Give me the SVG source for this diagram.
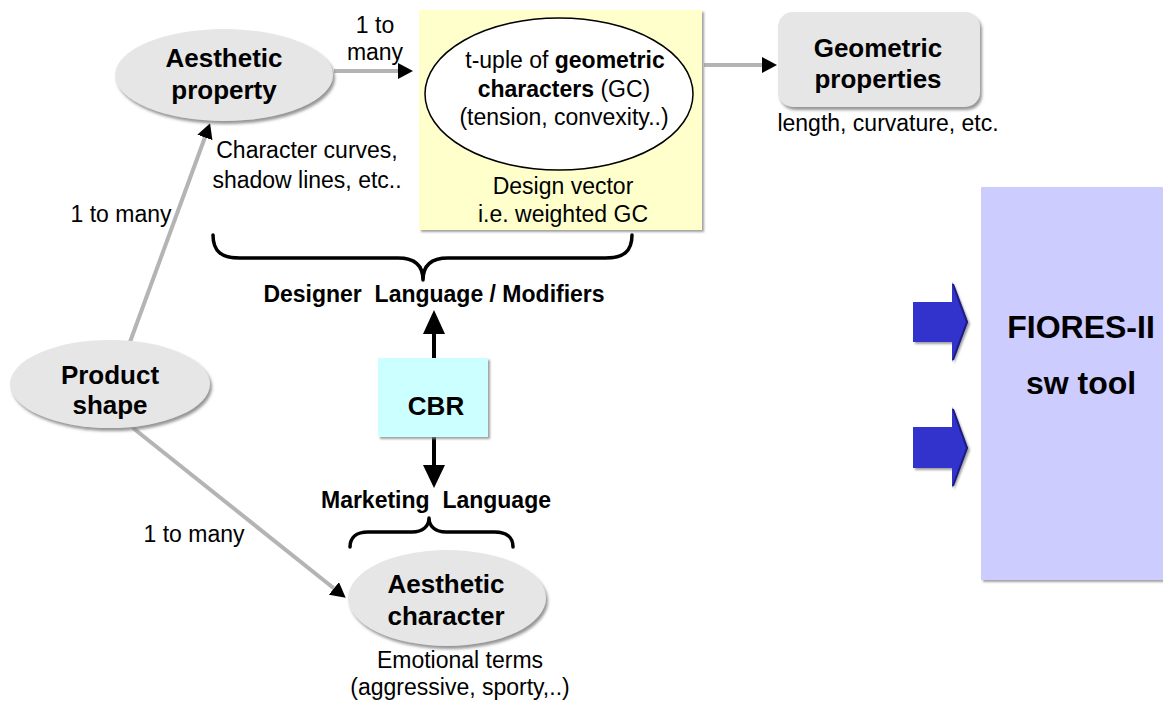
<svg xmlns="http://www.w3.org/2000/svg" width="1163" height="701" viewBox="0 0 1163 701">
<style>
text{font-family:"Liberation Sans",Arial,sans-serif;fill:#000}
.r{font-size:23px}
.b{font-size:23px;font-weight:bold}
.nb{font-size:26px;font-weight:bold}
.big{font-size:32px;font-weight:bold}
.node{fill:#e6e6e6;filter:url(#sh)}
.gl{stroke:#b4b4b4;stroke-width:4;fill:none}
.bl{stroke:#000;stroke-width:4;fill:none}
.brace{stroke:#000;stroke-width:3.5;fill:none;stroke-linecap:round;stroke-linejoin:round}
.barrow{fill:#3333cc;filter:url(#sh2)}
.bedge{stroke:#1c1c80;stroke-width:2;fill:none}
</style>
<defs>
<filter id="sh" x="-10%" y="-10%" width="130%" height="130%">
<feDropShadow dx="2" dy="3" stdDeviation="1.5" flood-color="#7a7a7a" flood-opacity="0.8"/>
</filter>
<filter id="sh2" x="-10%" y="-10%" width="130%" height="130%">
<feDropShadow dx="2" dy="2" stdDeviation="1" flood-color="#888" flood-opacity="0.8"/>
</filter>
<marker id="ah" viewBox="0 0 15 16" refX="9" refY="8" markerWidth="15" markerHeight="16" markerUnits="userSpaceOnUse" orient="auto">
<path d="M0,0 L15,8 L0,16 z" fill="#000"/>
</marker>
</defs>

<g id="connectors">
<line class="gl" x1="334" y1="71" x2="407" y2="71" marker-end="url(#ah)"/>
<line class="gl" x1="704" y1="65" x2="771" y2="65" marker-end="url(#ah)"/>
<line class="gl" x1="130" y1="342" x2="208" y2="129" marker-end="url(#ah)"/>
<line class="gl" x1="133" y1="428" x2="341" y2="594" marker-end="url(#ah)"/>
<line class="bl" x1="434" y1="358" x2="434" y2="330"/>
<polygon points="423,334 434,310 445,334" fill="#000"/>
<line class="bl" x1="434" y1="437" x2="434" y2="468"/>
<polygon points="423,465 434,488 445,465" fill="#000"/>
<path class="brace" d="M213,235 C213,252 222,258 240,258 L398,258 C415,258 423,266 423,280 C423,266 431,258 448,258 L605,258 C623,258 632,252 632,235"/>
<path class="brace" d="M350,547 C350,538 356,532 368,532 L412,532 C423,532 429,526 429,518 C429,526 435,532 446,532 L495,532 C507,532 513,538 513,547"/>
</g>

<g id="aesthetic-property">
<ellipse class="node" cx="224" cy="75" rx="109" ry="46"/>
<text class="nb" x="224" y="67" text-anchor="middle">Aesthetic</text>
<text class="nb" x="224" y="99" text-anchor="middle">property</text>
<text class="r" x="307" y="158" text-anchor="middle">Character curves,</text>
<text class="r" x="307" y="188" text-anchor="middle">shadow lines, etc..</text>
</g>

<g id="label-1-to-many-top">
<text class="r" x="375" y="33" text-anchor="middle">1 to</text>
<text class="r" x="375" y="60" text-anchor="middle">many</text>
</g>

<g id="design-vector">
<rect x="419" y="10" width="283" height="220" fill="#ffffcc" filter="url(#sh2)"/>
<ellipse cx="559" cy="94" rx="134" ry="76" fill="#fff" stroke="#000" stroke-width="1.5"/>
<text class="r" x="565" y="68" text-anchor="middle">t-uple of <tspan font-weight="bold">geometric</tspan></text>
<text class="r" x="564" y="97" text-anchor="middle"><tspan font-weight="bold">characters</tspan> (GC)</text>
<text class="r" x="564" y="125" text-anchor="middle">(tension, convexity..)</text>
<text class="r" x="563" y="194" text-anchor="middle">Design vector</text>
<text class="r" x="563" y="222" text-anchor="middle">i.e. weighted GC</text>
</g>

<g id="geometric-properties">
<rect class="node" x="778" y="12" width="202" height="95" rx="15" ry="15"/>
<text class="nb" x="878" y="57" text-anchor="middle">Geometric</text>
<text class="nb" x="878" y="88" text-anchor="middle">properties</text>
<text class="r" x="888" y="131" text-anchor="middle">length, curvature, etc.</text>
</g>

<g id="label-1-to-many-left">
<text class="r" x="121" y="222" text-anchor="middle">1 to many</text>
</g>

<g id="designer-language">
<text class="b" x="434" y="302" text-anchor="middle" xml:space="preserve">Designer  Language / Modifiers</text>
</g>

<g id="product-shape">
<ellipse class="node" cx="110" cy="384" rx="100" ry="44"/>
<text class="nb" x="110" y="384" text-anchor="middle">Product</text>
<text class="nb" x="110" y="414" text-anchor="middle">shape</text>
</g>

<g id="cbr">
<rect x="378" y="358" width="110" height="79" fill="#ccffff" filter="url(#sh2)"/>
<text class="nb" x="436" y="415" text-anchor="middle">CBR</text>
</g>

<g id="marketing-language">
<text class="b" x="436" y="508" text-anchor="middle" xml:space="preserve">Marketing  Language</text>
</g>

<g id="label-1-to-many-bottom">
<text class="r" x="194" y="542" text-anchor="middle">1 to many</text>
</g>

<g id="aesthetic-character">
<ellipse class="node" cx="447" cy="598" rx="99" ry="48"/>
<text class="nb" x="446" y="593" text-anchor="middle">Aesthetic</text>
<text class="nb" x="446" y="625" text-anchor="middle">character</text>
<text class="r" x="460" y="668" text-anchor="middle">Emotional terms</text>
<text class="r" x="460" y="695" text-anchor="middle">(aggressive, sporty,..)</text>
</g>

<g id="block-arrows">
<polygon class="barrow" points="913,302 952,302 952,282 968,322 952,362 952,342 913,342"/>
<polyline class="bedge" points="953,284 967,322 953,360"/>
<polygon class="barrow" points="913,427 952,427 952,407 968,448 952,488 952,468 913,468"/>
<polyline class="bedge" points="953,409 967,448 953,486"/>
</g>

<g id="fiores">
<rect x="981" y="187" width="190" height="393" fill="#ccccff" filter="url(#sh2)"/>
<text class="big" x="1081" y="338" text-anchor="middle">FIORES-II</text>
<text class="big" x="1081" y="394" text-anchor="middle">sw tool</text>
</g>
</svg>
